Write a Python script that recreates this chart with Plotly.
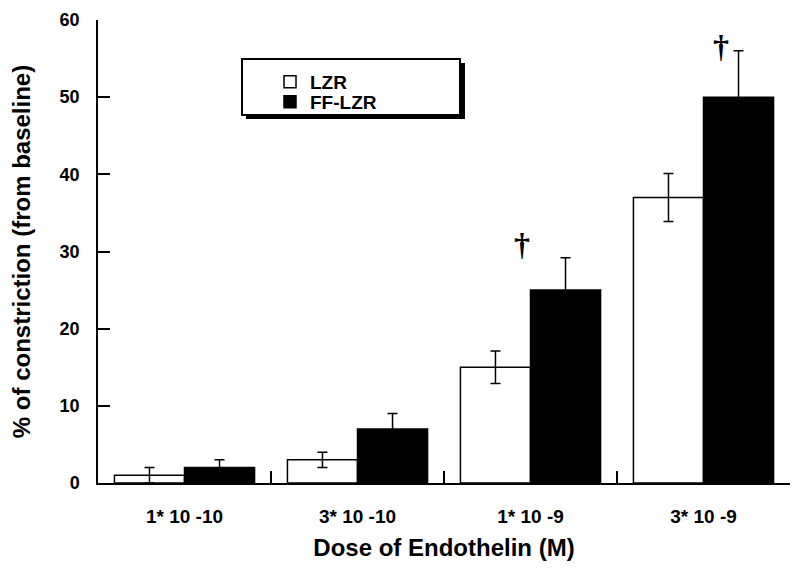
import plotly.graph_objects as go

categories = ["1* 10 -10", "3* 10 -10", "1* 10 -9", "3* 10 -9"]
lzr = [1, 3, 15, 37]
lzr_err = [1, 1, 2.1, 3.1]
ff_lzr = [2, 7, 25, 50]
ff_err = [1, 2, 4.2, 6]
y_ticks = [0, 10, 20, 30, 40, 50, 60]

FONT = "Liberation Sans, Arial, sans-serif"

# page has an 8px body margin; figure is sized to compensate
OFF = 8
W, H = 800 - OFF, 568 - OFF
L, R, T = 98 - OFF, 10, 20 - OFF
B = H - (483 - OFF)
PW, PH = W - L - R, H - T - B

def px_x(p):
    return (p - OFF - L) / PW

def px_y(p):
    return (H - B - (p - OFF)) / PH

fig = go.Figure()
fig.add_trace(go.Bar(
    name="LZR", x=categories, y=lzr, legend="legend",
    marker=dict(color="white", line=dict(color="black", width=1.5)),
    error_y=dict(type="data", array=lzr_err, color="black", thickness=1.5, width=5),
))
fig.add_trace(go.Bar(
    name="FF-LZR", x=categories, y=ff_lzr, legend="legend2",
    marker=dict(color="black", line=dict(color="black", width=1.5)),
    error_y=dict(type="data", array=ff_err, color="black", thickness=1.5, width=5),
))

# legend box with shadow
fig.add_shape(type="rect", xref="paper", yref="paper",
              x0=px_x(246), x1=px_x(465), y0=px_y(119), y1=px_y(63),
              fillcolor="black", line=dict(width=0), layer="below")
fig.add_shape(type="rect", xref="paper", yref="paper",
              x0=px_x(242), x1=px_x(460), y0=px_y(115), y1=px_y(59),
              fillcolor="white", line=dict(color="black", width=2), layer="below")

# significance daggers
for xi, yi in [(1.95, 31.0), (3.10, 56.6)]:
    fig.add_annotation(x=xi, y=yi, xref="x", yref="y", text="<b>†</b>",
                       showarrow=False,
                       font=dict(family="Liberation Serif, Times New Roman, serif", size=32, color="black"))

leg_font = dict(family=FONT, size=19, color="black", weight="bold")
fig.update_layout(
    width=W, height=H,
    margin=dict(l=L, r=R, t=T, b=B, autoexpand=False),
    plot_bgcolor="rgba(0,0,0,0)", paper_bgcolor="white",
    barmode="group", bargap=0.19, bargroupgap=0,
    font=dict(family=FONT, color="black"),
    showlegend=True,
    legend=dict(x=px_x(270), y=px_y(82), xanchor="left", yanchor="middle",
                bgcolor="rgba(0,0,0,0)", borderwidth=0, font=leg_font),
    legend2=dict(x=px_x(270), y=px_y(102), xanchor="left", yanchor="middle",
                 bgcolor="rgba(0,0,0,0)", borderwidth=0, font=leg_font),
    xaxis=dict(
        showline=True, linecolor="black", linewidth=1.5,
        ticks="inside", ticklen=12, tickwidth=1.5, tickcolor="black",
        tickson="boundaries",
        tickfont=dict(family=FONT, size=19, color="black", weight="bold"),
        ticklabelstandoff=15,
        title=dict(text="<b>Dose of Endothelin (M)</b>",
                   font=dict(family=FONT, size=24, color="black"), standoff=14),
        showgrid=False, zeroline=False, automargin=False,
    ),
    yaxis=dict(
        range=[0, 60], tickvals=y_ticks,
        showline=True, linecolor="black", linewidth=1.5,
        ticks="inside", ticklen=12, tickwidth=1.5, tickcolor="black",
        tickfont=dict(family=FONT, size=18, color="black", weight="bold"),
        ticklabelstandoff=13, ticklabeloverflow="allow",
        title=dict(text="<b>% of constriction (from baseline)</b>",
                   font=dict(family=FONT, size=24, color="black"), standoff=36),
        showgrid=False, zeroline=False, automargin=False,
    ),
)

fig.write_html("out.html")
